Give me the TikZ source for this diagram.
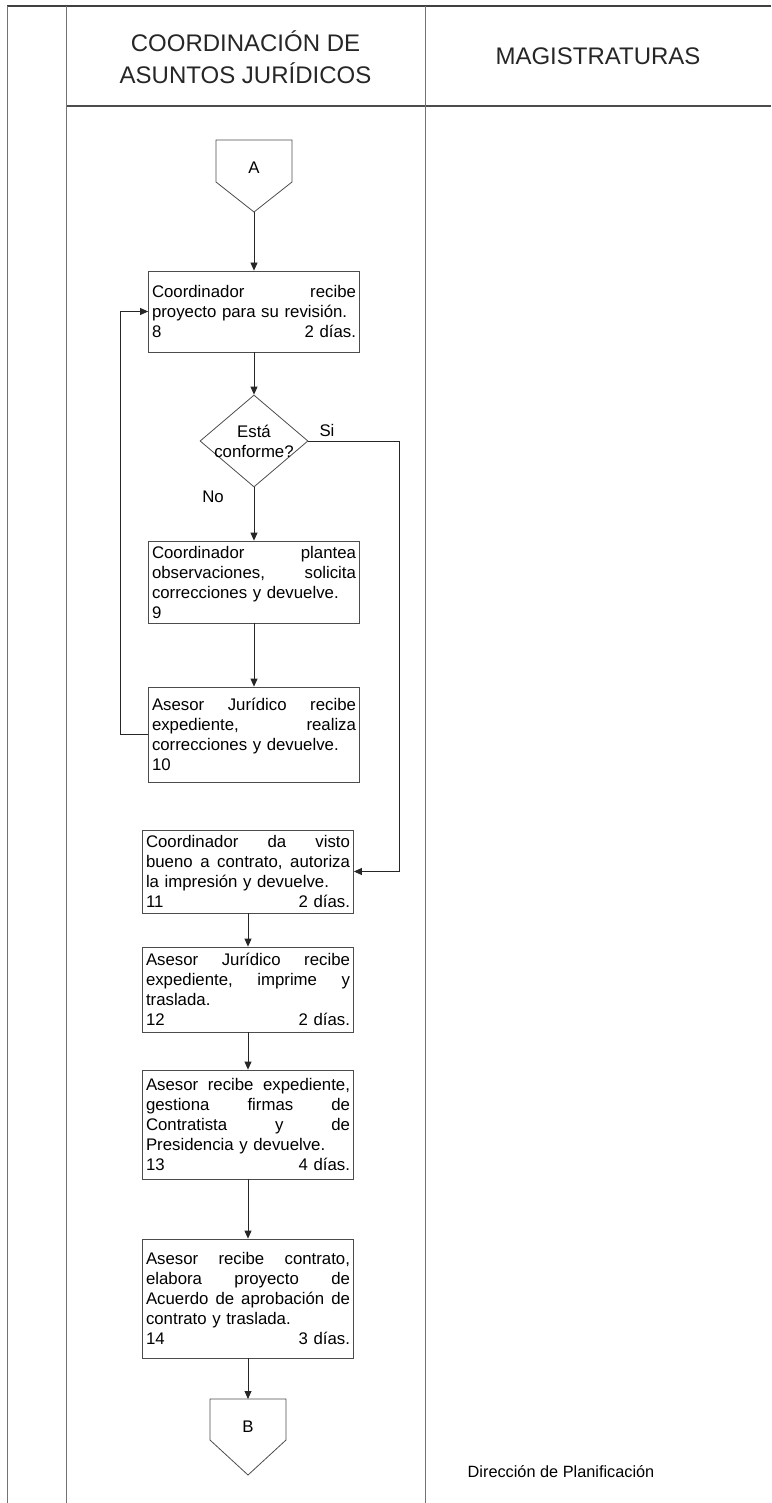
\documentclass[tikz,border=0pt]{standalone}
\usepackage{fontspec}
\setmainfont{Liberation Sans}
\usetikzlibrary{arrows.meta,shapes.geometric}
\tikzset{
  lane/.style={draw=black!55, line width=0.9pt},
  shapeline/.style={draw=black!70, line width=0.8pt},
  procbox/.style={shapeline, rectangle, text width=204pt, inner xsep=3.5pt, inner ysep=1pt, align=left, font=\fontsize{16.8}{20}\selectfont},
  decision/.style={shapeline, diamond, minimum width=108pt, minimum height=92pt, inner sep=0pt},
  flow/.style={draw=black!85, line width=0.8pt, -{Triangle[length=8pt,width=7pt]}},
  headtxt/.style={align=center, font=\fontsize{24}{32}\selectfont, text=black!85},
  smalltxt/.style={align=center, font=\fontsize{16.8}{20}\selectfont}
}
\begin{document}
\begin{tikzpicture}[x=1pt, y=-1pt]
\useasboundingbox (0,0) rectangle (771,1503);
\draw[lane, draw=black!75, line width=1.6pt] (7,6) -- (771,6);
\draw[lane, draw=black!70, line width=1.2pt] (66,106) -- (771,106);
\foreach \x in {7,66,425} \draw[lane] (\x,6) -- (\x,1503);
\node[headtxt] (hdcaj) at (245.5,57) {COORDINACIÓN DE\\ASUNTOS JURÍDICOS};
\node[headtxt] (hdmag) at (598,56) {MAGISTRATURAS};
\node[smalltxt] (conA) at (254,168) {A};
\draw[shapeline] (216,140) -- (292,140) -- (292,182) -- (254,212) coordinate (tipA) -- (216,182) -- cycle;
\node[procbox, minimum height=81pt] (b8) at (254,311.5) {Coordinador \hfill recibe\\proyecto para su revisión.\\8 \hfill 2 días.};
\node[decision] (chk) at (254,441) {};
\node[smalltxt] (chktxt) at (chk) {Está\\conforme?};
\node[smalltxt] (lblsi) at (327,430) {Si};
\node[smalltxt] (lblno) at (213,497) {No};
\node[procbox, minimum height=82pt] (b9) at (254,582) {Coordinador \hfill plantea\\observaciones, \hfill solicita\\correcciones y devuelve.\\9};
\node[procbox, minimum height=95pt] (b10) at (254,734.5) {Asesor \hfill Jurídico \hfill recibe\\expediente, \hfill realiza\\correcciones y devuelve.\\10};
\node[procbox, minimum height=83pt] (b11) at (248,871.5) {Coordinador \hfill da \hfill visto\\bueno \hfill a \hfill contrato, \hfill autoriza\\la impresión y devuelve.\\11 \hfill 2 días.};
\node[procbox, minimum height=85pt] (b12) at (248,989.5) {Asesor \hfill Jurídico \hfill recibe\\expediente, \hfill imprime \hfill y\\traslada.\\12 \hfill 2 días.};
\node[procbox, minimum height=109pt] (b13) at (248,1124.5) {Asesor \hfill recibe \hfill expediente,\\gestiona \hfill firmas \hfill de\\Contratista \hfill y \hfill de\\Presidencia y devuelve.\\13 \hfill 4 días.};
\node[procbox, minimum height=119pt] (b14) at (248,1298.5) {Asesor \hfill recibe \hfill contrato,\\elabora \hfill proyecto \hfill de\\Acuerdo \hfill de \hfill aprobación \hfill de\\contrato y traslada.\\14 \hfill 3 días.};
\node[smalltxt] (conB) at (248,1427) {B};
\draw[shapeline] (210,1399) -- (286,1399) -- (286,1440) -- (248,1475) -- (210,1440) -- cycle;
\coordinate (inB) at (248,1399);
\node[font=\fontsize{16.3}{19}\selectfont] (footer) at (561,1472) {Dirección de Planificación};
\draw[flow] (tipA) -- (b8.north);
\draw[flow] (b8.south) -- (chk.north);
\draw[flow] (chk.south) -- (b9.north);
\draw[flow] (b9.south) -- (b10.north);
\draw[flow] (b10.west) -- ++(-28,0) |- (b8.west);
\draw[flow] (chk.east) -- ++(91,0) |- (b11.east);
\draw[flow] (b11.south) -- (b12.north);
\draw[flow] (b12.south) -- (b13.north);
\draw[flow] (b13.south) -- (b14.north);
\draw[flow] (b14.south) -- (inB);
\end{tikzpicture}
\end{document}
